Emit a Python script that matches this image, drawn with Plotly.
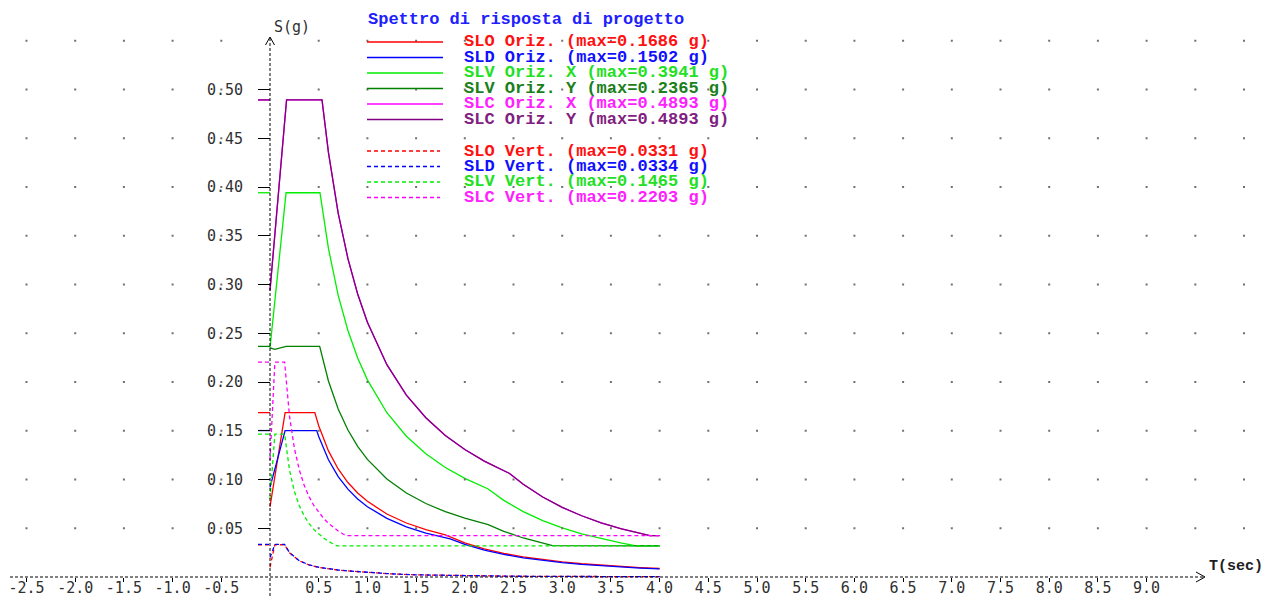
import plotly.graph_objects as go

# ---------------- data ----------------
T_SLO_O = [0, 0.155, 0.46, 0.5, 0.6, 0.7, 0.8, 0.9, 1.0, 1.2, 1.4, 1.6, 1.8, 2.0, 2.2, 2.4, 2.6, 2.8, 3.0, 3.2, 3.4, 3.6, 3.8, 4.0]
S_SLO_O = [0.072, 0.1686, 0.1686, 0.1551, 0.1293, 0.1108, 0.0969, 0.0862, 0.0776, 0.0646, 0.0554, 0.0485, 0.0431, 0.0349, 0.0288, 0.0242, 0.0207, 0.0178, 0.0155, 0.0136, 0.0121, 0.0108, 0.0097, 0.0087]

T_SLD_O = [0, 0.155, 0.48, 0.5, 0.6, 0.7, 0.8, 0.9, 1.0, 1.2, 1.4, 1.6, 1.85, 2.0, 2.2, 2.4, 2.6, 2.8, 3.0, 3.2, 3.4, 3.6, 3.8, 4.0]
S_SLD_O = [0.092, 0.1502, 0.1502, 0.1442, 0.1202, 0.1030, 0.0901, 0.0801, 0.0721, 0.0601, 0.0515, 0.0451, 0.0390, 0.0334, 0.0276, 0.0232, 0.0197, 0.0170, 0.0148, 0.0130, 0.0115, 0.0103, 0.0092, 0.0083]

T_SLV_X = [0, 0.165, 0.513, 0.6, 0.7, 0.8, 0.9, 1.0, 1.2, 1.4, 1.6, 1.8, 2.0, 2.24, 2.4, 2.6, 2.8, 3.0, 3.2, 3.4, 3.6, 3.76, 4.0]
S_SLV_X = [0.235, 0.3941, 0.3941, 0.3370, 0.2889, 0.2528, 0.2247, 0.2022, 0.1685, 0.1444, 0.1264, 0.1123, 0.1011, 0.0903, 0.0786, 0.0670, 0.0578, 0.0503, 0.0442, 0.0392, 0.0349, 0.0320, 0.0320]

T_SLV_Y = [0, 0.05, 0.165, 0.51, 0.6, 0.7, 0.8, 0.9, 1.0, 1.2, 1.4, 1.6, 1.8, 2.0, 2.24, 2.4, 2.6, 2.8, 2.9, 4.0]
S_SLV_Y = [0.235, 0.2335, 0.2365, 0.2365, 0.2010, 0.1723, 0.1508, 0.1340, 0.1206, 0.1005, 0.0861, 0.0754, 0.0670, 0.0603, 0.0538, 0.0469, 0.0400, 0.0345, 0.0321, 0.0320]

T_SLC = [0, 0.17, 0.534, 0.6, 0.7, 0.8, 0.9, 1.0, 1.2, 1.4, 1.6, 1.8, 2.0, 2.2, 2.46, 2.6, 2.8, 3.0, 3.2, 3.4, 3.6, 3.8, 3.9, 4.0]
S_SLC_X = [0.294, 0.4893, 0.4893, 0.4355, 0.3733, 0.3266, 0.2903, 0.2613, 0.2178, 0.1866, 0.1633, 0.1452, 0.1307, 0.1188, 0.1062, 0.0951, 0.0820, 0.0714, 0.0628, 0.0556, 0.0496, 0.0445, 0.0425, 0.0425]
S_SLC_Y = [0.294, 0.4893, 0.4893, 0.4355, 0.3733, 0.3266, 0.2903, 0.2613, 0.2178, 0.1866, 0.1633, 0.1452, 0.1307, 0.1188, 0.1062, 0.0951, 0.0820, 0.0714, 0.0628, 0.0556, 0.0496, 0.0445, 0.0425, 0.0425]

T_VERT_LOW = [0, 0.05, 0.15, 0.2, 0.3, 0.4, 0.5, 0.6, 0.7, 0.8, 0.9, 1.0, 1.2, 1.5, 2.0, 2.5, 3.0, 3.5, 4.0]
S_SLO_V = [0.010, 0.0331, 0.0331, 0.0248, 0.0166, 0.0124, 0.0099, 0.0083, 0.0071, 0.0062, 0.0055, 0.0050, 0.0034, 0.0022, 0.0012, 0.0008, 0.0006, 0.0004, 0.0003]
S_SLD_V = [0.020, 0.0334, 0.0334, 0.0251, 0.0167, 0.0125, 0.0100, 0.0084, 0.0072, 0.0063, 0.0056, 0.0050, 0.0035, 0.0022, 0.0013, 0.0008, 0.0006, 0.0004, 0.0003]

T_SLV_V = [0, 0.05, 0.15, 0.2, 0.25, 0.3, 0.35, 0.4, 0.45, 0.5, 0.55, 0.6, 0.65, 0.687, 4.0]
S_SLV_V = [0.080, 0.1465, 0.1465, 0.1099, 0.0879, 0.0733, 0.0628, 0.0549, 0.0488, 0.0440, 0.0400, 0.0366, 0.0338, 0.0320, 0.0320]

T_SLC_V = [0, 0.05, 0.15, 0.2, 0.25, 0.3, 0.35, 0.4, 0.45, 0.5, 0.55, 0.6, 0.65, 0.7, 0.75, 0.78, 4.0]
S_SLC_V = [0.120, 0.2203, 0.2203, 0.1652, 0.1322, 0.1102, 0.0944, 0.0826, 0.0734, 0.0661, 0.0601, 0.0551, 0.0508, 0.0472, 0.0441, 0.0425, 0.0425]

NAMES = ["SLO Oriz.", "SLD Oriz.", "SLV Oriz. X", "SLV Oriz. Y", "SLC Oriz. X", "SLC Oriz. Y",
         "SLO Vert.", "SLD Vert.", "SLV Vert.", "SLC Vert."]
MAXES = [0.1686, 0.1502, 0.3941, 0.2365, 0.4893, 0.4893, 0.0331, 0.0334, 0.1465, 0.2203]

X_TICKS = [-2.5, -2.0, -1.5, -1.0, -0.5, 0.5, 1.0, 1.5, 2.0, 2.5, 3.0, 3.5, 4.0, 4.5, 5.0, 5.5, 6.0, 6.5, 7.0, 7.5, 8.0, 8.5, 9.0]
X_TICK_TEXT = ["-2.5", "-2.0", "-1.5", "-1.0", "-0.5", "0.5", "1.0", "1.5", "2.0", "2.5", "3.0", "3.5", "4.0", "4.5", "5.0", "5.5", "6.0", "6.5", "7.0", "7.5", "8.0", "8.5", "9.0"]
Y_TICKS = [0.05, 0.10, 0.15, 0.20, 0.25, 0.30, 0.35, 0.40, 0.45, 0.50]
Y_TICK_TEXT = ["0.05", "0.10", "0.15", "0.20", "0.25", "0.30", "0.35", "0.40", "0.45", "0.50"]
GRID_T = [-2.5, -2.0, -1.5, -1.0, -0.5, 0.5, 1.0, 1.5, 2.0, 2.5, 3.0, 3.5, 4.0, 4.5, 5.0, 5.5, 6.0, 6.5, 7.0, 7.5, 8.0, 8.5, 9.0, 9.5, 10.0]
GRID_S = [0.05, 0.10, 0.15, 0.20, 0.25, 0.30, 0.35, 0.40, 0.45, 0.50, 0.55]

TITLE = "Spettro di risposta di progetto"

# ---------------- styling ----------------
RED, BLUE, LIME, DGREEN, MAGENTA, PURPLE = "#ff0000", "#0000ff", "#00ee00", "#008000", "#ff00ff", "#800080"
SERIES = [
    (T_SLO_O, S_SLO_O, RED, "solid"),
    (T_SLD_O, S_SLD_O, BLUE, "solid"),
    (T_SLV_X, S_SLV_X, LIME, "solid"),
    (T_SLV_Y, S_SLV_Y, DGREEN, "solid"),
    (T_SLC, S_SLC_X, MAGENTA, "solid"),
    (T_SLC, S_SLC_Y, PURPLE, "solid"),
    (T_VERT_LOW, S_SLO_V, RED, "4px,3px"),
    (T_VERT_LOW, S_SLD_V, BLUE, "4px,3px"),
    (T_SLV_V, S_SLV_V, LIME, "4px,3px"),
    (T_SLC_V, S_SLC_V, MAGENTA, "4px,3px"),
]
TEXT_COLORS = ["#ff1010", "#1010ff", "#22e022", "#1a801a", "#ff20ff", "#802080",
               "#ff1010", "#1010ff", "#22e022", "#ff20ff"]

W, H = 1267, 596
X0PX, XSCALE = 270.0, 97.4   # pixel of T=0, px per second
Y0PX, YSCALE = 577.0, 975.0  # pixel of S=0, px per g
XR = [(0 - X0PX) / XSCALE, (W - X0PX) / XSCALE]
YR = [(Y0PX - H) / YSCALE, Y0PX / YSCALE]

def tx(px):
    return (px - X0PX) / XSCALE

def sy(py):
    return (Y0PX - py) / YSCALE

def pxp(px):
    return px / W

def pyp(py):
    return 1 - py / H

MONO = "Liberation Mono, Courier New, monospace"
SANSMONO = "DejaVu Sans Mono, monospace"

fig = go.Figure()

# grid dots (placed on the label-only x axis, which matches the main one)
gx, gy = [], []
for s in GRID_S:
    for t in GRID_T:
        gx.append(t)
        gy.append(s)
fig.add_trace(go.Scatter(x=gx, y=gy, mode="markers", xaxis="x2",
                         marker=dict(symbol="square", size=2, color="#707070", line=dict(width=0)),
                         hoverinfo="skip", showlegend=False))

# curves
for (t, s, c, d), name in zip(SERIES, NAMES):
    fig.add_trace(go.Scatter(x=t, y=s, mode="lines", name=name,
                             line=dict(color=c, width=1.3, dash=d), showlegend=False))

# max markers at the left of the vertical axis
for (t, s, c, d), m in zip(SERIES, MAXES):
    fig.add_trace(go.Scatter(x=[tx(258), 0], y=[m, m], mode="lines",
                             line=dict(color=c, width=1.3, dash=d),
                             hoverinfo="skip", showlegend=False))

shapes = []
# axes (dashed) with arrow heads
shapes.append(dict(type="line", xref="x", yref="y", x0=tx(10), x1=tx(1204), y0=0, y1=0,
                   line=dict(color="black", width=1, dash="3px,2px")))
shapes.append(dict(type="line", xref="x", yref="y", x0=0, x1=0, y0=sy(596), y1=sy(38),
                   line=dict(color="black", width=1, dash="3px,2px")))
shapes.append(dict(type="path", xref="x", yref="y",
                   path=f"M {tx(1196)},{sy(572)} L {tx(1205)},{sy(577)} L {tx(1196)},{sy(582)}",
                   line=dict(color="black", width=1)))
shapes.append(dict(type="path", xref="x", yref="y",
                   path=f"M {tx(265.5)},{sy(45)} L {tx(270)},{sy(37)} L {tx(274.5)},{sy(45)}",
                   line=dict(color="black", width=1)))

annotations = []
# legend drawn by hand
ROW_Y = [42, 57.5, 73, 88.5, 104, 119.5, 151, 166.5, 182, 197.5]
for i, (name, m) in enumerate(zip(NAMES, MAXES)):
    c = SERIES[i][2]
    d = SERIES[i][3]
    x1 = 443 if d == "solid" else 440
    shapes.append(dict(type="line", xref="paper", yref="paper",
                       x0=pxp(367), x1=pxp(x1), y0=pyp(ROW_Y[i]), y1=pyp(ROW_Y[i]),
                       line=dict(color=c, width=1.3, dash=d)))
    annotations.append(dict(xref="paper", yref="paper", x=pxp(462), y=pyp(ROW_Y[i]),
                            xanchor="left", yanchor="middle", showarrow=False,
                            text=f"<b>{name} (max={m:.4f} g)</b>",
                            font=dict(family=MONO, size=17, color=TEXT_COLORS[i])))
annotations.append(dict(xref="paper", yref="paper", x=pxp(366), y=pyp(20), xanchor="left",
                        yanchor="middle", showarrow=False, text=f"<b>{TITLE}</b>",
                        font=dict(family=MONO, size=17, color="#2020ff")))
annotations.append(dict(xref="paper", yref="paper", x=pxp(272), y=pyp(27), xanchor="left",
                        yanchor="middle", showarrow=False, text="S(g)",
                        font=dict(family=SANSMONO, size=15, color="#303030")))
annotations.append(dict(xref="paper", yref="paper", x=pxp(1207), y=pyp(566), xanchor="left",
                        yanchor="middle", showarrow=False, text="<b>T(sec)</b>",
                        font=dict(family=MONO, size=15, color="#202020")))

X_AXIS_POS = (0 - YR[0]) / (YR[1] - YR[0])
fig.update_layout(
    width=W, height=H,
    margin=dict(l=0, r=0, t=0, b=0, pad=0),
    paper_bgcolor="white", plot_bgcolor="white",
    showlegend=False,
    shapes=shapes, annotations=annotations,
    xaxis=dict(range=XR, showgrid=False, zeroline=False, showline=False,
               tickvals=X_TICKS, showticklabels=False, ticks="outside", ticklen=4,
               tickcolor="black", tickwidth=1, anchor="free", position=X_AXIS_POS,
               automargin=False, fixedrange=True),
    xaxis2=dict(matches="x", overlaying="x", range=XR, showgrid=False, zeroline=False,
                showline=False, tickvals=X_TICKS, ticktext=X_TICK_TEXT, ticks="",
                anchor="free", position=X_AXIS_POS, side="bottom",
                tickfont=dict(family=SANSMONO, size=15, color="#303030"), automargin=False,
                fixedrange=True),
    yaxis=dict(range=YR, showgrid=False, zeroline=False, showline=False,
               tickvals=Y_TICKS, ticktext=Y_TICK_TEXT, ticks="outside", ticklen=12,
               tickcolor="black", tickwidth=1, anchor="free", position=(0 - XR[0]) / (XR[1] - XR[0]),
               tickfont=dict(family=SANSMONO, size=15, color="#303030"), automargin=False,
               ticklabelstandoff=12, fixedrange=True),
)

fig.write_html("out.html", config={"displayModeBar": False},
               post_script="document.body.style.margin='0';document.body.style.overflow='hidden';")
